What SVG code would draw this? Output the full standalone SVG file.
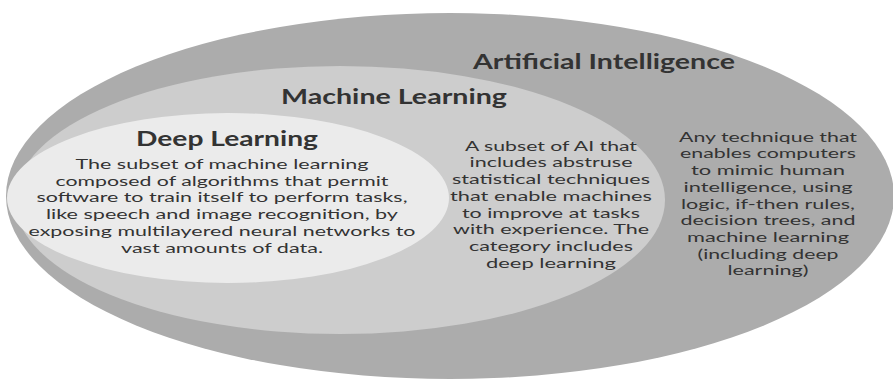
<svg xmlns="http://www.w3.org/2000/svg" width="893" height="379" viewBox="0 0 893 379">
<style>
.t{font-family:Lato,"Open Sans","Liberation Sans",sans-serif;fill:#333;text-anchor:middle}
.h{font-size:20px;font-weight:bold}
.b{font-size:13.5px}
</style>
<rect width="893" height="379" fill="#fff"/>
<g id="ai">
<ellipse cx="450" cy="196" rx="444" ry="183" fill="#acacac"/>
<text class="t h" x="604" y="69" textLength="262" lengthAdjust="spacingAndGlyphs">Artificial Intelligence</text>
<g class="t b">
<text x="768" y="141.7" textLength="178" lengthAdjust="spacingAndGlyphs">Any technique that</text>
<text x="768" y="158.4" textLength="176" lengthAdjust="spacingAndGlyphs">enables computers</text>
<text x="768" y="175.1" textLength="154" lengthAdjust="spacingAndGlyphs">to mimic human</text>
<text x="768" y="191.8" textLength="169" lengthAdjust="spacingAndGlyphs">intelligence, using</text>
<text x="768" y="208.5" textLength="174" lengthAdjust="spacingAndGlyphs">logic, if-then rules,</text>
<text x="768" y="225.2" textLength="175" lengthAdjust="spacingAndGlyphs">decision trees, and</text>
<text x="768" y="241.9" textLength="162" lengthAdjust="spacingAndGlyphs">machine learning</text>
<text x="768" y="258.6" textLength="141" lengthAdjust="spacingAndGlyphs">(including deep</text>
<text x="768" y="275.3" textLength="81" lengthAdjust="spacingAndGlyphs">learning)</text>
</g>
</g>
<g id="ml">
<ellipse cx="340" cy="200" rx="325" ry="134" fill="#cdcdcd"/>
<text class="t h" x="394" y="104" textLength="226" lengthAdjust="spacingAndGlyphs">Machine Learning</text>
<g class="t b">
<text x="551" y="150.7" textLength="172" lengthAdjust="spacingAndGlyphs">A subset of AI that</text>
<text x="551" y="167.4" textLength="163" lengthAdjust="spacingAndGlyphs">includes abstruse</text>
<text x="551" y="184.1" textLength="198" lengthAdjust="spacingAndGlyphs">statistical techniques</text>
<text x="551" y="200.8" textLength="202" lengthAdjust="spacingAndGlyphs">that enable machines</text>
<text x="551" y="217.5" textLength="178" lengthAdjust="spacingAndGlyphs">to improve at tasks</text>
<text x="551" y="234.2" textLength="196" lengthAdjust="spacingAndGlyphs">with experience. The</text>
<text x="551" y="250.9" textLength="164" lengthAdjust="spacingAndGlyphs">category includes</text>
<text x="551" y="267.6" textLength="130" lengthAdjust="spacingAndGlyphs">deep learning</text>
</g>
</g>
<g id="dl">
<ellipse cx="228" cy="198" rx="221" ry="85" fill="#ebebeb"/>
<text class="t h" x="227" y="145.5" textLength="182" lengthAdjust="spacingAndGlyphs">Deep Learning</text>
<g class="t b">
<text x="222" y="169" textLength="293" lengthAdjust="spacingAndGlyphs">The subset of machine learning</text>
<text x="222" y="185.7" textLength="333" lengthAdjust="spacingAndGlyphs">composed of algorithms that permit</text>
<text x="222" y="202.4" textLength="371" lengthAdjust="spacingAndGlyphs">software to train itself to perform  tasks,</text>
<text x="222" y="219.1" textLength="352" lengthAdjust="spacingAndGlyphs">like speech and image recognition, by</text>
<text x="222" y="235.8" textLength="387" lengthAdjust="spacingAndGlyphs">exposing multilayered neural networks to</text>
<text x="222" y="252.5" textLength="202" lengthAdjust="spacingAndGlyphs">vast amounts of data.</text>
</g>
</g>
<g id="connectors"/>
</svg>
